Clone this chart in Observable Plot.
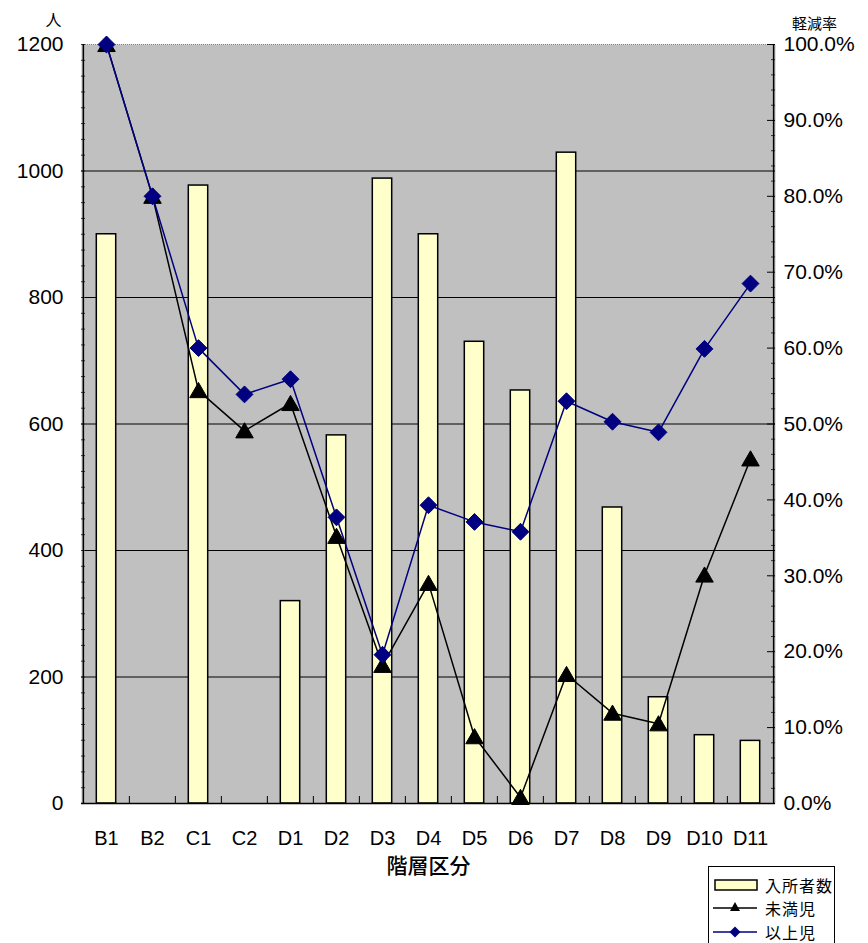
<!DOCTYPE html>
<html>
<head>
<meta charset="utf-8">
<script src="https://cdn.jsdelivr.net/npm/d3@7"></script>
<script src="https://cdn.jsdelivr.net/npm/@observablehq/plot@0.6"></script>
<style>
  html, body { margin: 0; padding: 0; background: #fff; overflow: hidden; }
  #wrap { position: relative; width: 868px; height: 943px; font-family: "Liberation Sans", "Noto Sans CJK JP", sans-serif; }
  #legend { position: absolute; left: 708px; top: 866px; width: 127px; height: 90px; border: 1px solid #000; background: #fff; box-sizing: border-box; }
  #legend .row { position: absolute; left: 0; height: 22px; display: flex; align-items: center; }
  #legend .row span { font-family: "Noto Sans CJK JP", sans-serif; font-size: 16px; color: #000; margin-left: 6px; letter-spacing: 1px; }
</style>
</head>
<body>
<div id="wrap">
  <div id="chart"></div>
  <div id="legend"></div>
</div>
<script>
// ---- data ----
const categories = ["B1","B2","C1","C2","D1","D2","D3","D4","D5","D6","D7","D8","D9","D10","D11"];
const admissions = [900, null, 977, null, 320, 582, 988, 900, 730, 653, 1029, 468, 168, 108, 99]; // 入所者数 (人)
const under3 = [100.0, 80.0, 54.4, 49.1, 52.7, 35.2, 18.2, 29.0, 8.8, 0.8, 17.0, 11.9, 10.5, 30.1, 45.4]; // 未満児 軽減率 (%)
const over3 = [100.0, 80.0, 60.0, 53.9, 55.9, 37.7, 19.6, 39.3, 37.1, 35.8, 53.0, 50.3, 48.9, 59.9, 68.5]; // 以上児 軽減率 (%)
const leftTicks = [0, 200, 400, 600, 800, 1000, 1200];
const rightTicks = [0, 10, 20, 30, 40, 50, 60, 70, 80, 90, 100];
const seriesNames = ["入所者数", "未満児", "以上児"];
const xTitle = "階層区分";
const leftUnit = "人";
const rightUnit = "軽減率";

// ---- build ----
const W = 868, H = 943;
const mL = 81, mR = 93, mT = 44, mB = 140;
const plotW = W - mL - mR, plotH = H - mT - mB;
const bw = plotW / categories.length;
const yMax = 1200;
const pctToY = p => p / 100 * yMax;

const bars = categories.map((c, i) => ({c, v: admissions[i]})).filter(d => d.v != null);
const lineU = categories.map((c, i) => ({c, v: pctToY(under3[i])}));
const lineO = categories.map((c, i) => ({c, v: pctToY(over3[i])}));

const numFont = "Liberation Sans, Noto Sans CJK JP, sans-serif";
const cjkFont = "Noto Sans CJK JP, sans-serif";

const chart = Plot.plot({
  width: W,
  height: H,
  marginLeft: mL,
  marginRight: mR,
  marginTop: mT,
  marginBottom: mB,
  style: {fontFamily: numFont, fontSize: "20px", color: "#000", background: "#fff", overflow: "visible"},
  x: {type: "band", domain: categories, padding: 0},
  y: {domain: [0, yMax]},
  marks: [
    Plot.frame({fill: "#c0c0c0", stroke: null}),
    // gridlines
    Plot.ruleY([200, 400, 600, 800, 1000], {stroke: "#000", strokeWidth: 1}),
    // top border (dotted)
    Plot.ruleY([yMax], {stroke: "#808080", strokeWidth: 1, strokeDasharray: "1,1"}),
    // left minor ticks
    Plot.tickY(d3.range(0, yMax + 1, 25), {insetRight: plotW - 4, stroke: "#333", strokeWidth: 1}),
    // right minor ticks (2%) and major ticks (10%)
    Plot.tickY(rightTicks.flatMap(t => t < 100 ? [2,4,6,8].map(k => pctToY(t + k)) : []), {insetLeft: plotW - 4, stroke: "#333", strokeWidth: 1}),
    Plot.tickY(rightTicks.map(pctToY), {insetLeft: plotW - 8, stroke: "#000", strokeWidth: 1}),
    // category boundary ticks at bottom
    Plot.tickX(categories.slice(1), {dx: -bw / 2, insetTop: plotH - 7, stroke: "#000", strokeWidth: 1}),
    // bars
    Plot.barY(bars, {x: "c", y: "v", fill: "#ffffcc", stroke: "#000", strokeWidth: 1.5, insetLeft: 13.3, insetRight: 13.3}),
    // axis lines
    Plot.ruleY([0], {stroke: "#000", strokeWidth: 1.5}),
    Plot.ruleX([categories[0]], {dx: -bw / 2, stroke: "#000", strokeWidth: 1.5}),
    Plot.ruleX([categories[categories.length - 1]], {dx: bw / 2, stroke: "#000", strokeWidth: 1.5}),
    // lines
    Plot.line(lineU, {x: "c", y: "v", stroke: "#000", strokeWidth: 1.5}),
    Plot.line(lineO, {x: "c", y: "v", stroke: "#000080", strokeWidth: 1.5}),
    Plot.dot(lineU, {x: "c", y: "v", symbol: "triangle", r: 6.5, fill: "#000", stroke: "#000", strokeWidth: 1, dy: 2}),
    Plot.dot(lineO, {x: "c", y: "v", symbol: "diamond2", r: 7.6, fill: "#000080", stroke: "#000080", strokeWidth: 1}),
    // axes
    Plot.axisX({tickSize: 0, tickPadding: 27, fontSize: 20, label: null}),
    Plot.axisY({anchor: "left", ticks: leftTicks, tickFormat: d => String(d), tickSize: 0, tickPadding: 18, fontSize: 21, label: null}),
    Plot.axisY({anchor: "right", ticks: rightTicks.map(pctToY), tickFormat: d => (d / yMax * 100).toFixed(1) + "%", tickSize: 0, tickPadding: 8, fontSize: 21, label: null}),
    // titles
    Plot.text([xTitle], {frameAnchor: "bottom", dy: 69, fontSize: 21, fontFamily: cjkFont, fontWeight: 500, letterSpacing: 1}),
    Plot.text([leftUnit], {frameAnchor: "top-left", textAnchor: "middle", dx: -28, dy: -30, fontSize: 16, fontFamily: cjkFont}),
    Plot.text([rightUnit], {frameAnchor: "top-right", textAnchor: "middle", dx: 39, dy: -26, fontSize: 15, fontFamily: cjkFont})
  ]
});
document.getElementById("chart").appendChild(chart);

// ---- legend ----
const legend = document.getElementById("legend");
const rows = [
  {name: seriesNames[0], top: 7, svg: `<rect x="6" y="6" width="42" height="10" fill="#ffffcc" stroke="#000" stroke-width="1.5"/>`},
  {name: seriesNames[1], top: 30, svg: `<line x1="4" y1="11" x2="48" y2="11" stroke="#000" stroke-width="1.5"/><path d="M26,5 L31,14 L21,14 Z" fill="#000"/>`},
  {name: seriesNames[2], top: 54, svg: `<line x1="4" y1="11" x2="48" y2="11" stroke="#000080" stroke-width="1.5"/><path d="M26,5.5 L31.5,11 L26,16.5 L20.5,11 Z" fill="#000080"/>`}
];
for (const r of rows) {
  const div = document.createElement("div");
  div.className = "row";
  div.style.top = r.top + "px";
  div.innerHTML = `<svg width="50" height="22">${r.svg}</svg><span>${r.name}</span>`;
  legend.appendChild(div);
}
</script>
</body>
</html>
